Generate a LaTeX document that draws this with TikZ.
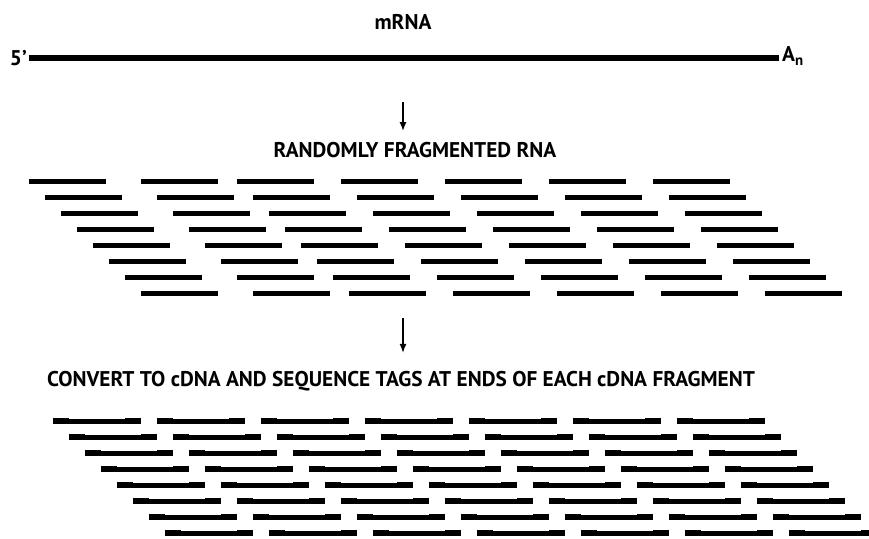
\documentclass[tikz,border=0pt]{standalone}
\usepackage{fontspec}
\setmainfont{PT Sans}
\usetikzlibrary{arrows.meta, positioning}

\begin{document}
\begin{tikzpicture}[
  x=1pt, y=-1pt,
  every node/.style={font=\fontsize{21.3}{24}\selectfont\bfseries, inner sep=0pt},
  strand/.style={line width=6.5pt},
  frag/.style={line width=5pt},
  tagend/.style={line width=6.5pt},
  arr/.style={-{Latex[length=9pt,width=7pt]}, line width=1.4pt},
]
 \clip (0,0) rectangle (869,538);

 % ---- mRNA ----
 \node (mrna) at (403,22) {mRNA};
 \coordinate (five) at (29,58);
 \coordinate (three) at (779,58);
 \node[anchor=east] (fivelbl) at ([xshift=-2pt]five) {5’};
 \node[anchor=west] (polya) at ([xshift=3pt,yshift=2pt]three) {A\textsubscript{n}};
 \draw[strand] (five) -- (three);

 % ---- fragmentation ----
 \node (fraglbl) at (415,150) {RANDOMLY FRAGMENTED RNA};
 \coordinate (arrA) at (403,102);
 \draw[arr] (arrA) -- ([yshift=11pt]fraglbl.north -| arrA);
 \foreach \r in {0,...,7}
   \foreach \o in {0,112,208,312,416,520,624}
     \draw[frag] (29+16*\r+\o, 181+16*\r) -- ++(77,0);

 % ---- cDNA with end tags ----
 \coordinate (arrB) at (403,318);
 \node (cdnalbl) at (401,381) {CONVERT TO cDNA AND SEQUENCE TAGS AT ENDS OF EACH cDNA FRAGMENT};
 \draw[arr] (arrB) -- ([yshift=18pt]cdnalbl.north -| arrB);
 \foreach \r in {0,...,7}
   \foreach \o in {0,104,...,624} {
     \draw[frag] (53+16*\r+\o, 421+16*\r) -- ++(88,0);
     \draw[tagend] (53+16*\r+\o, 421+16*\r) -- ++(16,0);
     \draw[tagend] (125+16*\r+\o, 421+16*\r) -- ++(16,0);
   }

\end{tikzpicture}
\end{document}
